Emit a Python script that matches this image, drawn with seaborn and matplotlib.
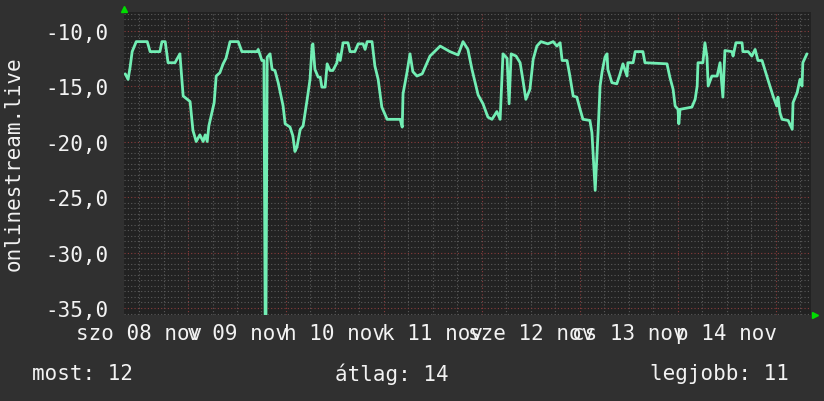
import numpy as np
import pandas as pd
import matplotlib
matplotlib.use("Agg")
import matplotlib.pyplot as plt
from matplotlib.ticker import MultipleLocator, FixedLocator
import seaborn as sns

# hours since 09 nov 00:00
hours = [-15.4, -14.7, -14.2, -13.7, -12.7, -10.0, -9.3, -6.9, -6.4, -5.6, -4.9, -3.2, -2.0, -1.2,
         0.5, 1.2, 2.0, 2.9, 3.7, 4.2, 4.7, 5.1, 6.4, 6.9, 7.8, 8.6, 9.3, 10.3, 12.3, 13.2, 16.9,
         17.2, 18.1, 18.6, 18.9, 19.1, 19.4, 20.1, 20.6, 21.3, 22.1, 23.3, 23.8, 25.0, 25.7, 26.2,
         26.7, 27.5, 28.2, 29.2, 29.9, 30.4, 30.6, 31.1, 31.9, 32.4, 32.8, 33.6, 34.1, 34.8, 35.5,
         36.5, 36.8, 37.3, 38.0, 39.2, 39.7, 40.9, 41.7, 42.9, 43.4, 43.9, 45.1, 45.8, 46.6, 47.5,
         48.8, 52.0, 52.5, 52.7, 53.7, 54.4, 55.1, 56.1, 57.4, 58.6, 59.3, 61.8, 64.2, 66.2, 67.4,
         68.6, 69.6, 71.1, 72.3, 73.5, 74.5, 75.7, 76.5, 77.2, 78.2, 78.7, 79.2, 80.4, 81.4, 82.1,
         82.8, 83.8, 84.6, 85.5, 86.5, 88.2, 89.5, 90.4, 91.2, 91.7, 92.9, 93.6, 94.4, 95.3, 96.1,
         96.8, 98.5, 99.0, 99.8, 100.5, 101.0, 101.5, 102.2, 102.7, 102.9, 103.9, 105.1, 105.9,
         106.6, 107.6, 107.8, 109.1, 109.6, 111.5, 112.0, 117.4, 118.1, 118.9, 119.4, 120.1, 120.3,
         120.6, 123.5, 124.3, 124.8, 125.0, 126.2, 126.7, 127.2, 127.5, 128.4, 129.7, 130.4, 131.1,
         131.6, 133.3, 133.6, 134.3, 135.8, 136.0, 137.3, 138.2, 139.0, 139.7, 140.7, 142.2, 143.4,
         144.3, 144.6, 145.1, 145.6, 147.1, 148.1, 148.3, 149.3, 150.0, 150.5, 150.7, 151.7]
values = [-13.9, -14.4, -13.3, -11.9, -11.0, -11.0, -11.9, -11.9, -11.0, -11.0, -12.9, -12.9, -12.1, -15.9,
          -16.4, -19.0, -20.0, -19.4, -20.0, -19.4, -20.0, -18.6, -16.5, -14.1, -13.8, -13.0, -12.5, -11.0, -11.0, -11.9, -11.9,
          -11.7, -12.7, -12.7, -36.0, -36.0, -12.4, -12.1, -13.5, -13.6, -14.7, -16.8, -18.4, -18.7, -19.5, -20.9,
          -20.5, -18.9, -18.6, -16.2, -14.4, -11.4, -11.2, -13.5, -14.2, -14.2, -15.1, -15.1, -13.0, -13.6, -13.6,
          -12.9, -12.1, -12.7, -11.1, -11.1, -11.9, -11.9, -11.2, -11.2, -11.7, -11.0, -11.0, -13.2, -14.4, -16.9,
          -18.0, -18.0, -18.7, -15.7, -13.7, -12.1, -13.7, -14.1, -13.9, -12.9, -12.3, -11.4, -11.9, -12.2, -11.0,
          -11.7, -13.5, -15.8, -16.6, -17.8, -18.0, -17.3, -18.0, -12.1, -12.5, -16.6, -12.1, -12.3, -12.9, -14.5,
          -16.2, -15.3, -12.6, -11.4, -11.0, -11.2, -11.0, -11.4, -11.1, -12.7, -12.7, -14.1, -15.9, -16.0, -17.1,
          -18.0, -18.1, -19.2, -24.4, -19.2, -15.0, -13.7, -12.4, -12.1, -13.5, -14.7, -14.8, -13.9,
          -13.0, -14.1, -12.9, -12.9, -11.9, -11.9, -12.9, -13.0, -14.2, -15.3, -16.8, -17.1, -18.4,
          -17.1, -16.9, -16.2, -15.0, -12.9, -12.9, -11.1, -12.4, -15.0, -14.1, -14.1, -12.9, -16.0,
          -11.8, -11.9, -12.3, -11.1, -11.1, -11.9, -11.9, -12.3, -11.7, -12.7, -12.7, -14.5, -15.9,
          -16.8, -16.0, -17.4, -18.0, -18.1, -18.9, -16.5, -15.6, -14.4, -15.0, -12.9, -12.1]

day_noons = [-12, 12, 36, 60, 84, 108, 132]
day_labels = ["szo 08 nov", "v 09 nov", "h 10 nov", "k 11 nov", "sze 12 nov", "cs 13 nov", "p 14 nov"]
y_ticks = [-10, -15, -20, -25, -30, -35]
y_labels = ["-10,0", "-15,0", "-20,0", "-25,0", "-30,0", "-35,0"]
series_name = "onlinestream.live"
stats = ["most: 12", "átlag: 14", "legjobb: 11"]

df = pd.DataFrame({"hours": hours, "value": values})

sns.set_theme(style="dark")
plt.rcParams["font.family"] = ["DejaVu Sans Mono", "DejaVu Sans"]
plt.rcParams["font.size"] = 15

bg = "#303030"
fg = "#f2f2f2"

fig = plt.figure(figsize=(8.24, 4.02), dpi=100, facecolor=bg)
ax = fig.add_axes([124 / 824, 1 - 316 / 402, 687 / 824, 303 / 402])
ax.set_facecolor("#222222")

sns.lineplot(data=df, x="hours", y="value", ax=ax, color="#72eeb4", linewidth=2.0, zorder=3)

ax.set_xlim(-15.7, 152.7)
ax.set_ylim(-35.63, -8.33)

# grid: minor grey, major reddish, both dotted
ax.xaxis.set_major_locator(MultipleLocator(24))
ax.xaxis.set_minor_locator(MultipleLocator(6))
ax.yaxis.set_major_locator(FixedLocator(y_ticks))
ax.yaxis.set_minor_locator(MultipleLocator(0.5))
ax.grid(which="minor", color="#5a5a5a", linestyle=(0, (1, 2)), linewidth=0.8)
ax.grid(which="major", color="#8a3c3c", linestyle=(0, (1, 2)), linewidth=0.8)
ax.set_xticklabels([])
ax.set_yticklabels(y_labels, color=fg, fontsize=15)
ax.tick_params(which="both", length=0)
ax.tick_params(axis="y", pad=11)
for s in ax.spines.values():
    s.set_visible(False)

# day labels at noon
sec = ax.secondary_xaxis("bottom")
sec.set_xticks(day_noons, day_labels, color=fg, fontsize=15)
sec.tick_params(length=0, pad=6)
sec.spines["bottom"].set_visible(False)

ax.set_xlabel("")
ax.set_ylabel("")
fig.text(14 / 824, 1 - 164 / 402, series_name, rotation=90, ha="center", va="center",
         color=fg, fontsize=15)

# green arrows at the axis ends
ax.plot([0], [1.01], marker="^", color="#00dd00", markersize=5, transform=ax.transAxes, clip_on=False)
ax.plot([1.006], [0.0], marker=">", color="#00dd00", markersize=5, transform=ax.transAxes, clip_on=False)

fig.text(32 / 824, 1 - 374 / 402, stats[0], ha="left", va="center", color=fg, fontsize=15)
fig.text(335 / 824, 1 - 374 / 402, stats[1], ha="left", va="center", color=fg, fontsize=15)
fig.text(650 / 824, 1 - 374 / 402, stats[2], ha="left", va="center", color=fg, fontsize=15)

fig.savefig("out.png", dpi=100, facecolor=bg)
